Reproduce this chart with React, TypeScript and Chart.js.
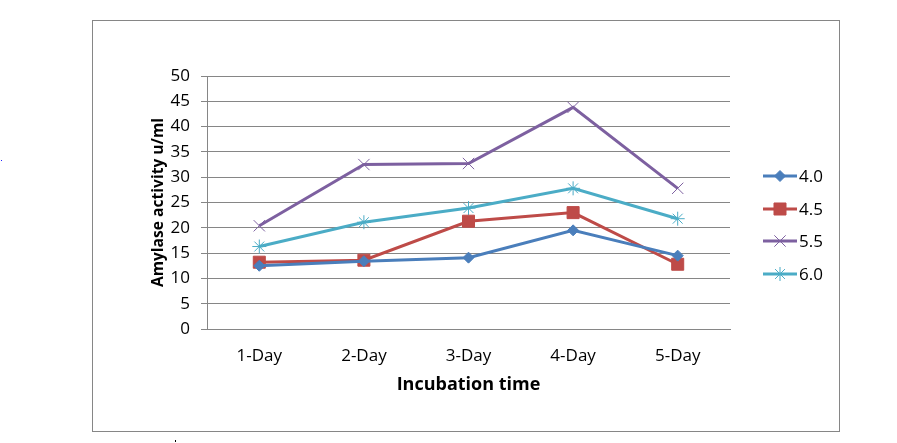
import React, { useEffect, useRef } from "react";
import { Chart, registerables } from "chart.js";

Chart.register(...registerables);

// Incubation days on the x axis
const categories = ["1-Day", "2-Day", "3-Day", "4-Day", "5-Day"];

// Amylase activity (u/ml) per pH
const ph40 = [12.5, 13.4, 14.1, 19.5, 14.5];
const ph45 = [13.2, 13.6, 21.3, 23.0, 12.8];
const ph55 = [20.4, 32.5, 32.7, 43.8, 27.8];
const ph60 = [16.3, 21.1, 23.9, 27.8, 21.8];

const seriesNames = ["4.0", "4.5", "5.5", "6.0"];
const yTicks = [0, 5, 10, 15, 20, 25, 30, 35, 40, 45, 50];

const GRID = "#868686";
const FONT = "'Open Sans', 'Noto Sans', sans-serif";

const styles = [
  { color: "#4A7EBB", point: "rectRot", radius: 5.5, fill: true },
  { color: "#BE4B48", point: "rect", radius: 8.5, fill: true },
  { color: "#7D60A0", point: "crossRot", radius: 8, fill: false },
  { color: "#4BACC6", point: "star", radius: 7, fill: false },
];

function drawMarker(ctx: CanvasRenderingContext2D, style: string, r: number, x: number, y: number, fill: boolean) {
  ctx.beginPath();
  if (style === "rectRot") {
    ctx.moveTo(x - r, y);
    ctx.lineTo(x, y - r);
    ctx.lineTo(x + r, y);
    ctx.lineTo(x, y + r);
    ctx.closePath();
  } else if (style === "rect") {
    const s = Math.SQRT1_2 * r;
    ctx.rect(x - s, y - s, 2 * s, 2 * s);
  } else if (style === "crossRot") {
    const s = Math.SQRT1_2 * r;
    ctx.moveTo(x - s, y - s);
    ctx.lineTo(x + s, y + s);
    ctx.moveTo(x - s, y + s);
    ctx.lineTo(x + s, y - s);
  } else if (style === "star") {
    const s = Math.SQRT1_2 * r;
    ctx.moveTo(x, y - r);
    ctx.lineTo(x, y + r);
    ctx.moveTo(x - r, y);
    ctx.lineTo(x + r, y);
    ctx.moveTo(x - s, y - s);
    ctx.lineTo(x + s, y + s);
    ctx.moveTo(x - s, y + s);
    ctx.lineTo(x + s, y - s);
  }
  if (fill) ctx.fill();
  ctx.stroke();
}

// Legend drawn to the right of the plot: a short line with the marker on it
const sideLegend = {
  id: "sideLegend",
  afterDraw(chart: any) {
    const { ctx, chartArea } = chart;
    const x0 = chartArea.right + 33;
    const rows = [176, 209, 241, 274];
    ctx.save();
    chart.data.datasets.forEach((ds: any, i: number) => {
      const y = rows[i];
      ctx.strokeStyle = ds.borderColor;
      ctx.lineWidth = 3;
      ctx.beginPath();
      ctx.moveTo(x0, y);
      ctx.lineTo(x0 + 34, y);
      ctx.stroke();
      ctx.fillStyle = ds.pointBackgroundColor;
      ctx.strokeStyle = ds.pointBorderColor;
      ctx.lineWidth = ds.pointBorderWidth;
      drawMarker(ctx, ds.pointStyle, ds.pointRadius, x0 + 17, y, styles[i].fill);
      ctx.fillStyle = "#000";
      ctx.font = `17px ${FONT}`;
      ctx.textAlign = "left";
      ctx.textBaseline = "middle";
      ctx.fillText(ds.label, x0 + 36, y + 1);
    });
    ctx.restore();
  },
};

export default function App() {
  const canvasRef = useRef<HTMLCanvasElement | null>(null);

  useEffect(() => {
    if (!canvasRef.current) return;
    const values = [ph40, ph45, ph55, ph60];
    const chart = new Chart(canvasRef.current, {
      type: "line",
      data: {
        labels: categories,
        datasets: values.map((v, i) => ({
          label: seriesNames[i],
          data: v,
          borderColor: styles[i].color,
          backgroundColor: styles[i].color,
          borderWidth: 3,
          tension: 0,
          pointStyle: styles[i].point as any,
          pointRadius: styles[i].radius,
          pointHoverRadius: styles[i].radius,
          pointBackgroundColor: styles[i].fill ? styles[i].color : "rgba(0,0,0,0)",
          pointBorderColor: styles[i].color,
          pointBorderWidth: 1,
        })),
      },
      options: {
        responsive: false,
        animation: false,
        events: [],
        layout: { padding: { left: 149, right: 167, top: 76, bottom: 0 } },
        plugins: {
          legend: { display: false },
          tooltip: { enabled: false },
        },
        scales: {
          x: {
            offset: true,
            grid: { display: false },
            border: { display: true, color: GRID, width: 1 },
            ticks: {
              color: "#000",
              padding: 9,
              maxRotation: 0,
              font: { family: FONT, size: 17 },
            },
            title: {
              display: true,
              text: "Incubation time",
              color: "#000",
              font: { family: FONT, size: 18, weight: "bold" },
              padding: { top: 0, bottom: 47 },
            },
            afterFit: (s: any) => {
              s.height = 114;
            },
          },
          y: {
            min: 0,
            max: 50,
            afterBuildTicks: (s: any) => {
              s.ticks = yTicks.map((v) => ({ value: v }));
            },
            grid: { color: GRID, lineWidth: 1, tickLength: 6, drawTicks: true },
            border: { display: true, color: GRID, width: 1 },
            ticks: {
              color: "#000",
              padding: 11,
              font: { family: FONT, size: 17 },
            },
            title: {
              display: true,
              text: "Amylase activity u/ml",
              color: "#000",
              font: { family: FONT, size: 15.6, weight: "bold" },
              padding: { top: 0, bottom: 0 },
            },
            afterFit: (s: any) => {
              s.width = 58;
            },
          },
        },
      },
      plugins: [sideLegend],
    });
    return () => chart.destroy();
  }, []);

  return (
    <div style={{ position: "fixed", left: 0, top: 0, width: 897, height: 443, background: "#fff" }}>
      <div
        style={{
          position: "absolute",
          left: 92,
          top: 20,
          width: 746,
          height: 410,
          border: "1px solid #868686",
        }}
      />
      <canvas ref={canvasRef} width={897} height={443} style={{ position: "absolute", left: 0, top: 0 }} />
      <div style={{ position: "absolute", left: 1, top: 160, width: 1, height: 1, background: "#2020ff" }} />
      <div style={{ position: "absolute", left: 175, top: 440, width: 1, height: 2, background: "#000" }} />
    </div>
  );
}
